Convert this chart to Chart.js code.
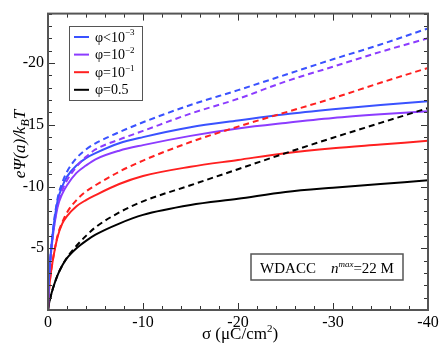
<!DOCTYPE html>
<html>
<head>
<meta charset="utf-8">
<script src="https://cdn.jsdelivr.net/npm/chart.js@4/dist/chart.umd.min.js"></script>
<style>
  html, body { margin: 0; padding: 0; background: #fff; }
  canvas { display: block; }
</style>
</head>
<body>
<canvas id="grafico" width="443" height="349"></canvas>
<script>
// sigma (uC/cm2) and e*Psi(a)/kT
let sigma = [0, -0.1, -0.25, -0.5, -1, -1.5, -2, -3, -4, -5, -7.5, -10, -15, -20, -25, -30, -35, -40]

// solid curves (WDACC)
let azulCheio   = [0, -2.5, -4.2, -6.2, -8.8, -10.0, -10.8, -11.7, -12.3, -12.7, -13.5, -14.0, -14.8, -15.35, -15.85, -16.25, -16.6, -16.9]
let roxoCheio   = [0, -2.3, -4.0, -5.9, -8.3, -9.4, -10.1, -11.1, -11.7, -12.2, -12.9, -13.35, -14.1, -14.7, -15.15, -15.55, -15.85, -16.1]
let vermCheio   = [0, -1.5, -2.7, -4.0, -5.9, -7.0, -7.6, -8.4, -8.9, -9.3, -10.2, -10.85, -11.6, -12.15, -12.7, -13.1, -13.4, -13.7]
let pretoCheio  = [0, -0.5, -1.0, -1.7, -2.8, -3.6, -4.2, -5.0, -5.6, -6.1, -7.0, -7.7, -8.5, -9.0, -9.55, -9.9, -10.2, -10.5]

// dashed curves
let azulTrac    = [0, -2.5, -4.2, -6.3, -9.0, -10.3, -11.2, -12.3, -13.0, -13.5, -14.4, -15.2, -16.6, -17.8, -19.05, -20.3, -21.5, -22.8]
let roxoTrac    = [0, -2.3, -4.0, -6.0, -8.5, -9.7, -10.5, -11.6, -12.4, -13.0, -13.8, -14.5, -15.9, -17.1, -18.5, -19.7, -20.9, -22.0]
let vermTrac    = [0, -1.5, -2.7, -4.0, -6.0, -7.1, -7.9, -8.9, -9.6, -10.1, -11.2, -12.1, -13.6, -14.85, -16.0, -17.15, -18.4, -19.6]
let pretoTrac   = [0, -0.5, -1.0, -1.7, -2.8, -3.6, -4.25, -5.2, -6.0, -6.7, -7.9, -8.8, -10.1, -11.4, -12.7, -13.95, -15.15, -16.35]

let cores = ['#3a52ff', '#8c3cff', '#ff2020', '#000000']
let legBase = ['\u03c6<10', '\u03c6=10', '\u03c6=10', '\u03c6=0.5']
let legSup  = ['\u22123', '\u22122', '\u22121', '']

let xTicks = [0, -10, -20, -30, -40]
let yTicks = [-5, -10, -15, -20]

let serif = '"Liberation Serif", "DejaVu Serif", serif'
Chart.defaults.font.family = serif
Chart.defaults.color = '#000'

function pontos(ys) {
  return sigma.map((s, i) => ({ x: s, y: ys[i] }))
}

function serie(ys, cor, tracejado) {
  return {
    data: pontos(ys),
    borderColor: cor,
    borderWidth: 2,
    borderDash: tracejado ? [6, 4] : [],
    pointRadius: 0,
    fill: false,
    cubicInterpolationMode: 'monotone'
  }
}

// draws a list of text pieces {t, f, dy} one after another
function escreve(ctx, partes, x, y, alinhar) {
  let total = 0
  partes.forEach(p => { ctx.font = p.f; total += ctx.measureText(p.t).width })
  let cx = alinhar === 'center' ? x - total / 2 : x
  partes.forEach(p => {
    ctx.font = p.f
    ctx.fillText(p.t, cx, y + (p.dy || 0))
    cx += ctx.measureText(p.t).width
  })
}

let enfeites = {
  id: 'enfeites',
  afterDraw(chart) {
    let ctx = chart.ctx
    let a = chart.chartArea
    let sx = chart.scales.x, sy = chart.scales.y
    ctx.save()

    // inward ticks on all four sides
    ctx.strokeStyle = '#333'
    ctx.lineWidth = 1
    ctx.beginPath()
    for (let v = 0; v >= -40; v -= 2) {
      let px = Math.round(sx.getPixelForValue(v)) + 0.5
      let len = v % 10 === 0 ? 7 : 4
      ctx.moveTo(px, a.bottom); ctx.lineTo(px, a.bottom - len)
      ctx.moveTo(px, a.top); ctx.lineTo(px, a.top + len)
    }
    for (let v = 0; v >= -24; v -= 1) {
      let py = Math.round(sy.getPixelForValue(v)) + 0.5
      let len = v % 5 === 0 ? 7 : 4
      ctx.moveTo(a.left, py); ctx.lineTo(a.left + len, py)
      ctx.moveTo(a.right, py); ctx.lineTo(a.right - len, py)
    }
    ctx.stroke()

    // frame
    ctx.strokeStyle = '#555'
    ctx.lineWidth = 2
    ctx.strokeRect(a.left, a.top, a.right - a.left, a.bottom - a.top)

    // legend
    ctx.lineWidth = 1
    ctx.strokeStyle = '#555'
    ctx.fillStyle = '#fff'
    ctx.fillRect(69.5, 26.5, 73, 74)
    ctx.strokeRect(69.5, 26.5, 73, 74)
    ctx.textBaseline = 'middle'
    ctx.fillStyle = '#000'
    for (let i = 0; i < legBase.length; i++) {
      let yy = 37 + i * 17.6
      ctx.strokeStyle = cores[i]
      ctx.lineWidth = 2
      ctx.beginPath()
      ctx.moveTo(74, yy); ctx.lineTo(89, yy)
      ctx.stroke()
      escreve(ctx, [
        { t: legBase[i], f: '14px ' + serif, dy: 1 },
        { t: legSup[i], f: '9px ' + serif, dy: -4 }
      ], 95, yy, 'left')
    }

    // WDACC box
    ctx.strokeStyle = '#555'
    ctx.lineWidth = 1.5
    ctx.strokeRect(251, 254, 152, 26)
    ctx.textBaseline = 'alphabetic'
    escreve(ctx, [
      { t: 'WDACC', f: '15px ' + serif },
      { t: '    ', f: '15px ' + serif },
      { t: 'n', f: 'italic 15px ' + serif },
      { t: 'max', f: 'italic 9px ' + serif, dy: -6 },
      { t: '=22 M', f: '15px ' + serif }
    ], 327, 273, 'center')

    // x title
    escreve(ctx, [
      { t: '\u03c3 (\u03bcC/cm', f: '17px ' + serif },
      { t: '2', f: '11px ' + serif, dy: -7 },
      { t: ')', f: '17px ' + serif }
    ], 240, 339, 'center')

    // y title, rotated
    ctx.translate(21, 144)
    ctx.rotate(-Math.PI / 2)
    ctx.textBaseline = 'middle'
    escreve(ctx, [
      { t: 'e\u03a8(a)/k', f: 'italic 17px ' + serif },
      { t: 'B', f: 'italic 12px ' + serif, dy: 5 },
      { t: 'T', f: 'italic 17px ' + serif }
    ], 0, 0, 'center')

    ctx.restore()
  }
}

new Chart(document.getElementById('grafico'), {
  type: 'line',
  data: {
    datasets: [
      serie(azulTrac, cores[0], true),
      serie(roxoTrac, cores[1], true),
      serie(vermTrac, cores[2], true),
      serie(pretoTrac, cores[3], true),
      serie(azulCheio, cores[0], false),
      serie(roxoCheio, cores[1], false),
      serie(vermCheio, cores[2], false),
      serie(pretoCheio, cores[3], false)
    ]
  },
  options: {
    responsive: false,
    animation: false,
    layout: { padding: { top: 8, right: 15, left: 0, bottom: 0 } },
    plugins: { legend: { display: false }, tooltip: { enabled: false } },
    scales: {
      x: {
        type: 'linear',
        min: -40, max: 0,
        reverse: true,
        afterFit: s => { s.height = 39 },
        afterBuildTicks: s => { s.ticks = xTicks.map(v => ({ value: v })) },
        ticks: {
          callback: v => String(v),
          font: { size: 16, family: serif },
          color: '#000',
          padding: 3,
          maxRotation: 0,
          autoSkip: false
        },
        grid: { display: false, drawTicks: false },
        border: { display: false }
      },
      y: {
        type: 'linear',
        min: -24, max: 0,
        reverse: true,
        afterFit: s => { s.width = 48 },
        afterBuildTicks: s => { s.ticks = yTicks.map(v => ({ value: v })) },
        ticks: {
          callback: v => String(v),
          font: { size: 16, family: serif },
          color: '#000',
          padding: 4,
          autoSkip: false
        },
        grid: { display: false, drawTicks: false },
        border: { display: false }
      }
    }
  },
  plugins: [enfeites]
})
</script>
</body>
</html>
